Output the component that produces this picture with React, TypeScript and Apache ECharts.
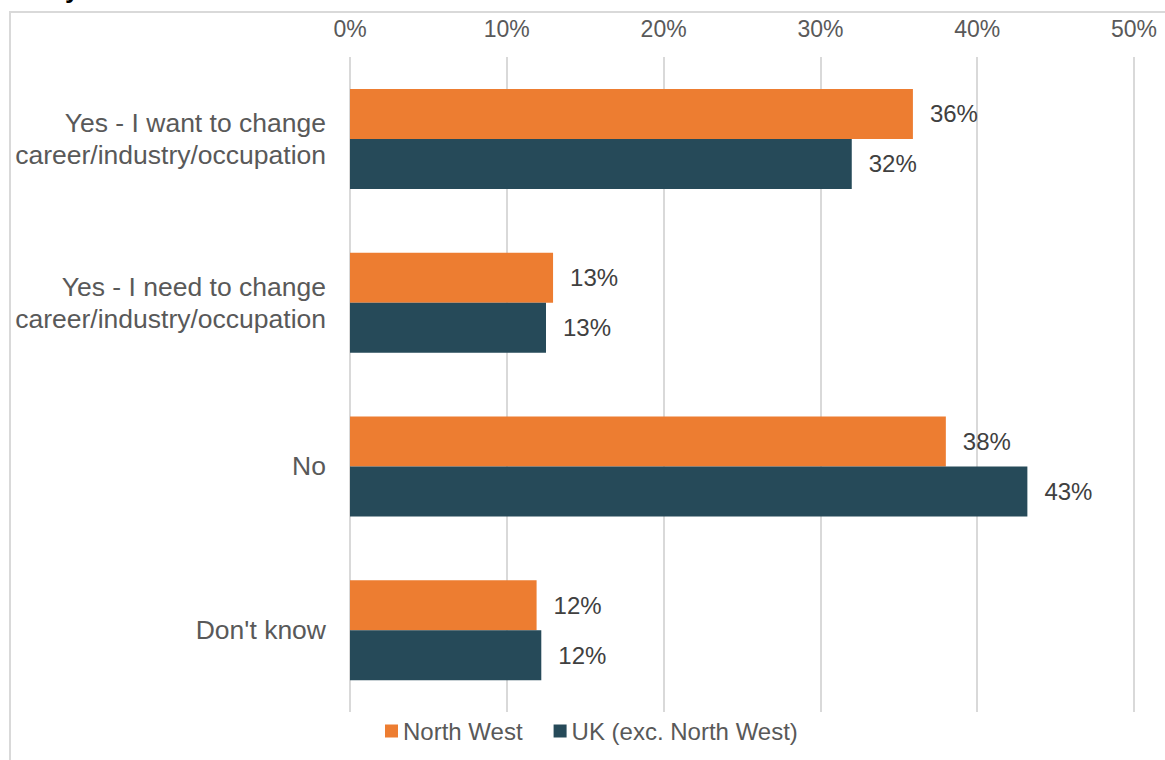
import React, { useEffect, useRef } from "react";
import * as echarts from "echarts";

const categories = [
  "Yes - I want to change\ncareer/industry/occupation",
  "Yes - I need to change\ncareer/industry/occupation",
  "No",
  "Don't know",
];
const northWest = [35.9, 12.95, 38.0, 11.9];
const ukExcNW = [32.0, 12.5, 43.2, 12.2];
const seriesNames = ["North West", "UK (exc. North West)"];
const xTicks = { min: 0, max: 50, interval: 10 };

const FONT = "Liberation Sans, Arial, sans-serif";

export default function App() {
  const ref = useRef<HTMLDivElement>(null);
  useEffect(() => {
    if (!ref.current) return;
    const chart = echarts.init(ref.current, undefined, { renderer: "svg" });
    const labelStyle = {
      show: true,
      position: "right",
      distance: 17,
      fontSize: 24,
      fontFamily: FONT,
      color: "#404040",
      formatter: (p: any) => Math.round(p.value) + "%",
    };
    chart.setOption({
      animation: false,
      backgroundColor: "#ffffff",
      textStyle: { fontFamily: FONT },
      graphic: [
        {
          type: "rect",
          shape: { x: 10, y: 12, width: 1300, height: 900 },
          style: { fill: "none", stroke: "#d9d9d9", lineWidth: 2 },
          silent: true,
        },
        {
          type: "text",
          x: 65,
          y: 2,
          style: {
            text: "years",
            font: "bold 26px " + FONT,
            fill: "#000000",
            verticalAlign: "bottom",
          },
          silent: true,
        },
      ],
      legend: {
        bottom: 12,
        left: 380,
        icon: "rect",
        itemWidth: 13,
        itemHeight: 13,
        itemGap: 31,
        textStyle: { fontSize: 24, color: "#595959", fontFamily: FONT },
        data: seriesNames,
      },
      grid: { left: 350, right: 31, top: 57, bottom: 48, containLabel: false },
      xAxis: {
        type: "value",
        position: "top",
        min: xTicks.min,
        max: xTicks.max,
        interval: xTicks.interval,
        axisLine: { show: false },
        axisTick: { show: false },
        axisLabel: {
          formatter: "{value}%",
          fontSize: 23,
          color: "#595959",
          margin: 17,
          fontFamily: FONT,
        },
        splitLine: { show: true, lineStyle: { color: "#d9d9d9", width: 2 } },
      },
      yAxis: {
        type: "category",
        inverse: true,
        data: categories,
        axisLine: { show: false },
        axisTick: { show: false },
        axisLabel: {
          fontSize: 26.5,
          lineHeight: 32,
          color: "#595959",
          margin: 24,
          align: "right",
          fontFamily: FONT,
        },
      },
      series: [
        {
          name: seriesNames[0],
          type: "bar",
          data: northWest,
          barWidth: 50,
          barGap: "0%",
          itemStyle: { color: "#ED7D31" },
          label: labelStyle,
        },
        {
          name: seriesNames[1],
          type: "bar",
          data: ukExcNW,
          barWidth: 50,
          barGap: "0%",
          itemStyle: { color: "#264A59" },
          label: labelStyle,
        },
      ],
    });
    return () => chart.dispose();
  }, []);
  return (
    <div
      ref={ref}
      style={{ position: "fixed", left: 0, top: 0, width: 1165, height: 760 }}
    />
  );
}
